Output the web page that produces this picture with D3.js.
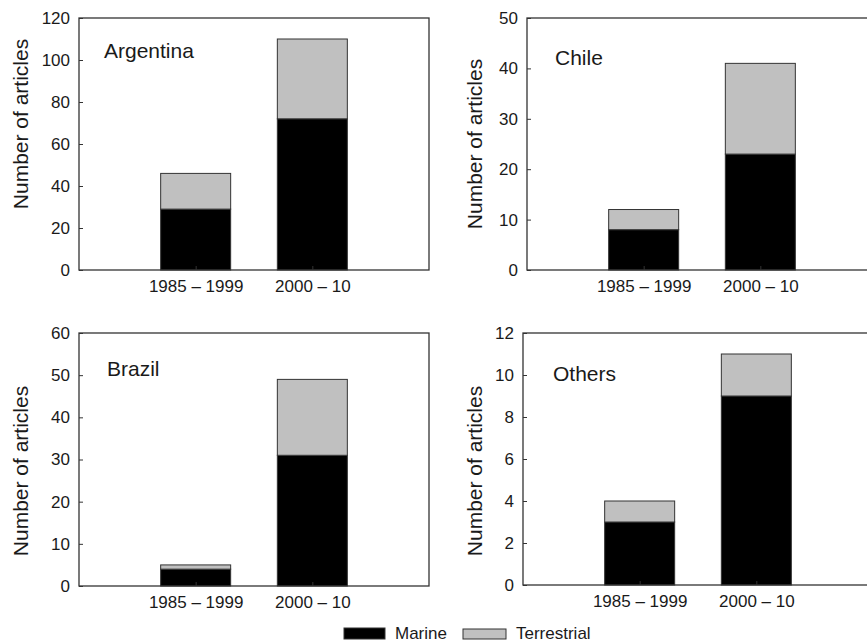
<!DOCTYPE html>
<html>
<head>
<meta charset="utf-8">
<script src="https://cdn.jsdelivr.net/npm/d3@7"></script>
<style>
  html, body { margin: 0; padding: 0; background: #fff; }
  svg { display: block; }
  text { font-family: "Liberation Sans", Arial, sans-serif; fill: #1a1a1a; }
</style>
</head>
<body>
<svg id="chart" width="867" height="644"></svg>
<script>
// ---- data ----
const categories = ["1985 \u2013 1999", "2000 \u2013 10"];
const regions = ["Argentina", "Chile", "Brazil", "Others"];
const marine = [[29, 72], [8, 23], [4, 31], [3, 9]];
const terrestrial = [[17, 38], [4, 18], [1, 18], [1, 2]];
const yMax = [120, 50, 60, 12];
const yStep = [20, 10, 10, 2];
const seriesNames = ["Marine", "Terrestrial"];
const seriesColors = ["#000000", "#c0c0c0"];

// ---- layout ----
const panels = [
  { left: 79, top: 18, w: 350, h: 252, titleX: 28, titleY: 124, labelX: 104, labelY: 58 },
  { left: 527, top: 18, w: 350, h: 252, titleX: 482, titleY: 144, labelX: 555, labelY: 65 },
  { left: 79, top: 333, w: 350, h: 253, titleX: 28, titleY: 471, labelX: 107, labelY: 376 },
  { left: 523, top: 333, w: 350, h: 252, titleX: 482, titleY: 471, labelX: 553, labelY: 381 }
];

const svg = d3.select("#chart");

panels.forEach((p, i) => {
  const g = svg.append("g").attr("transform", `translate(${p.left},${p.top})`);
  const x = d3.scaleLinear().domain([0, 3]).range([0, p.w]);
  const y = d3.scaleLinear().domain([0, yMax[i]]).range([p.h, 0]);
  const barW = x(0.6) - x(0);

  // stacked bars
  const stack = categories.map((c, j) => ({
    c: c, pos: j + 1,
    parts: [
      { y0: 0, y1: marine[i][j], color: seriesColors[0] },
      { y0: marine[i][j], y1: marine[i][j] + terrestrial[i][j], color: seriesColors[1] }
    ]
  }));
  stack.forEach(s => {
    g.selectAll(null).data(s.parts).enter().append("rect")
      .attr("x", x(s.pos) - barW / 2)
      .attr("width", barW)
      .attr("y", d => y(d.y1))
      .attr("height", d => y(d.y0) - y(d.y1))
      .attr("fill", d => d.color)
      .attr("stroke", "#333")
      .attr("stroke-width", 1);
  });

  // frame
  g.append("rect").attr("x", 0).attr("y", 0).attr("width", p.w).attr("height", p.h)
    .attr("fill", "none").attr("stroke", "#333").attr("stroke-width", 1.3);

  // y axis
  const yAxis = d3.axisLeft(y)
    .tickValues(d3.range(0, yMax[i] + 0.001, yStep[i]))
    .tickSizeInner(-4).tickSizeOuter(0).tickPadding(9)
    .tickFormat(d3.format("d"));
  const ya = g.append("g").call(yAxis);
  ya.select(".domain").remove();
  ya.selectAll("line").attr("stroke", "#333");
  ya.selectAll("text").attr("font-size", 17).attr("fill", "#1a1a1a")
    .attr("font-family", '"Liberation Sans", Arial, sans-serif');

  // x axis
  const xAxis = d3.axisBottom(x)
    .tickValues([1, 2])
    .tickFormat((d) => categories[d - 1])
    .tickSizeInner(-4).tickSizeOuter(0).tickPadding(10);
  const xa = g.append("g").attr("transform", `translate(0,${p.h})`).call(xAxis);
  xa.select(".domain").remove();
  xa.selectAll("line").attr("stroke", "#333");
  xa.selectAll("text").attr("font-size", 17).attr("fill", "#1a1a1a")
    .attr("font-family", '"Liberation Sans", Arial, sans-serif');

  // axis title
  svg.append("text")
    .attr("transform", `translate(${p.titleX},${p.titleY}) rotate(-90)`)
    .attr("text-anchor", "middle")
    .attr("font-size", 21)
    .text("Number of articles");

  // region label
  svg.append("text")
    .attr("x", p.labelX).attr("y", p.labelY)
    .attr("font-size", 21)
    .text(regions[i]);
});

// legend
const legend = [
  { rx: 344, ry: 628, rw: 41, rh: 11, tx: 395, ty: 639 },
  { rx: 463, ry: 629, rw: 43, rh: 10, tx: 516, ty: 639 }
];
legend.forEach((l, k) => {
  svg.append("rect").attr("x", l.rx).attr("y", l.ry).attr("width", l.rw).attr("height", l.rh)
    .attr("fill", seriesColors[k]).attr("stroke", "#333").attr("stroke-width", 1);
  svg.append("text").attr("x", l.tx).attr("y", l.ty).attr("font-size", 17).text(seriesNames[k]);
});
</script>
</body>
</html>
